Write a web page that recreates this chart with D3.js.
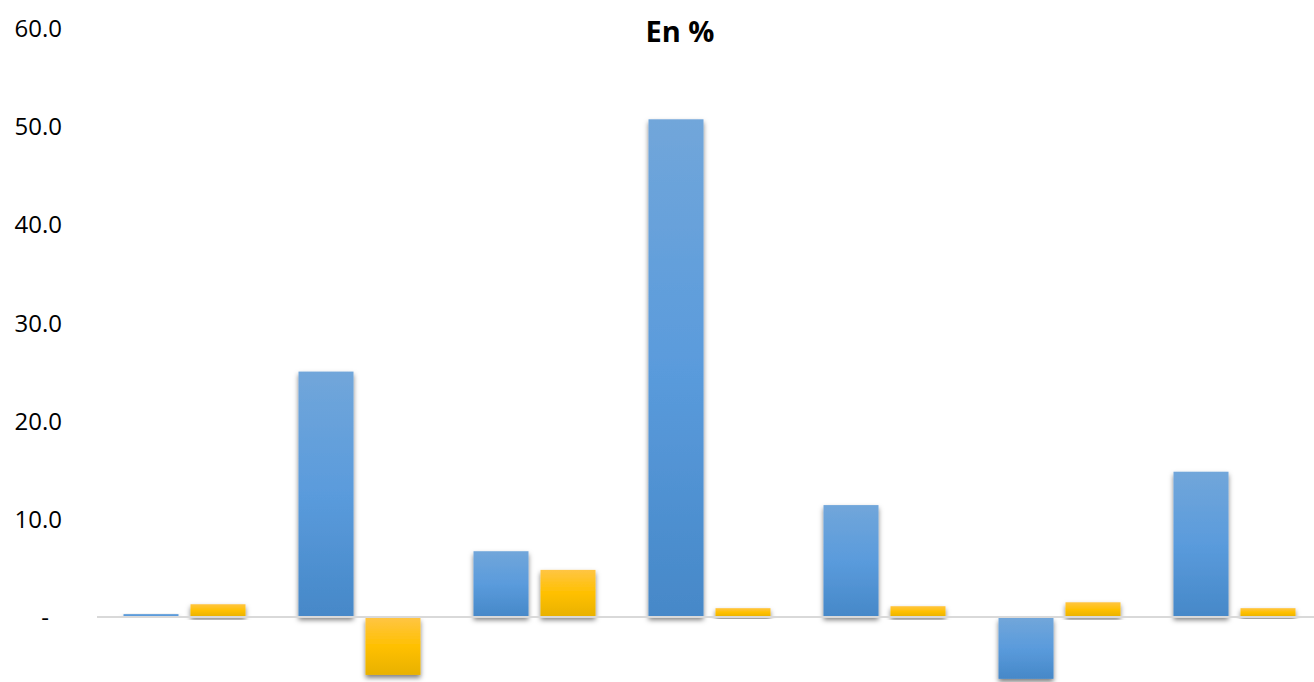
<!DOCTYPE html>
<html>
<head>
<meta charset="utf-8">
<script src="https://cdn.jsdelivr.net/npm/d3@7"></script>
<style>
html,body{margin:0;padding:0;background:#fff;overflow:hidden;}
svg{display:block;}
</style>
</head>
<body>
<svg id="chart" width="1314" height="682"></svg>
<script>
// ---- data ----
const title = "En %";
const categories = ["C1", "C2", "C3", "C4", "C5", "C6", "C7"];
const seriesNames = ["S1", "S2"];
const seriesBlue = [0.3, 25.0, 6.7, 50.7, 11.4, -6.3, 14.8];
const seriesGold = [1.3, -5.9, 4.8, 0.9, 1.1, 1.5, 0.9];
const yTicks = [0, 10, 20, 30, 40, 50, 60];

// ---- layout ----
const W = 1314, H = 682;
const svg = d3.select("#chart");

const y = d3.scaleLinear().domain([0, 60]).range([617, 28]);
const x0 = d3.scaleBand().domain(categories).range([97, 1322]).padding(0);
const x1 = d3.scaleBand().domain(seriesNames).range([26.5, 148.5]).paddingInner(0.179).paddingOuter(0);

const defs = svg.append("defs");
function grad(id, stops) {
  const g = defs.append("linearGradient").attr("id", id)
    .attr("x1", 0).attr("y1", 0).attr("x2", 0).attr("y2", 1);
  stops.forEach(s => g.append("stop").attr("offset", s[0]).attr("stop-color", s[1]));
}
grad("gBlue", [[0, "#71a6da"], [0.5, "#5a9bdc"], [1, "#4688c8"]]);
grad("gGold", [[0, "#ffc543"], [0.5, "#ffc000"], [1, "#e8b100"]]);
const f = defs.append("filter").attr("id", "shadow")
  .attr("x", "-20%").attr("y", "-20%").attr("width", "140%").attr("height", "140%");
f.append("feDropShadow").attr("dx", 0).attr("dy", 3).attr("stdDeviation", 2.4)
  .attr("flood-color", "#000").attr("flood-opacity", 0.5);

// title
svg.append("text").attr("x", 680).attr("y", 42)
  .attr("text-anchor", "middle")
  .attr("font-family", "'Open Sans', sans-serif").attr("font-weight", "bold")
  .attr("font-size", 29).attr("fill", "#000").text(title);

// y axis labels
const yAxis = d3.axisLeft(y).tickValues(yTicks)
  .tickFormat(d => d === 0 ? "-" : d3.format(".1f")(d))
  .tickSize(0).tickPadding(0);
const gy = svg.append("g").attr("transform", "translate(62,0)").call(yAxis);
gy.select(".domain").remove();
gy.selectAll("text")
  .attr("font-family", "'Open Sans', sans-serif")
  .attr("font-size", 24).attr("fill", "#000")
  .attr("dy", "0.36em")
  .attr("dx", d => d === 0 ? -13 : 0);

// bars
const data = categories.map((c, i) => ({cat: c, vals: [
  {s: seriesNames[0], v: seriesBlue[i], fill: "url(#gBlue)"},
  {s: seriesNames[1], v: seriesGold[i], fill: "url(#gGold)"}
]}));

const groups = svg.append("g").selectAll("g").data(data).join("g")
  .attr("transform", d => `translate(${x0(d.cat)},0)`);
groups.selectAll("rect").data(d => d.vals).join("rect")
  .attr("x", d => x1(d.s))
  .attr("width", x1.bandwidth())
  .attr("y", d => d.v >= 0 ? y(d.v) : y(0) + 1)
  .attr("height", d => Math.max(1, Math.abs(y(d.v) - y(0)) - (d.v < 0 ? 1 : 0)))
  .attr("fill", d => d.fill)
  .attr("filter", "url(#shadow)");

// zero line
svg.append("line")
  .attr("x1", 97).attr("x2", W)
  .attr("y1", y(0)).attr("y2", y(0))
  .attr("stroke", "#d9d9d9").attr("stroke-width", 2);
</script>
</body>
</html>
